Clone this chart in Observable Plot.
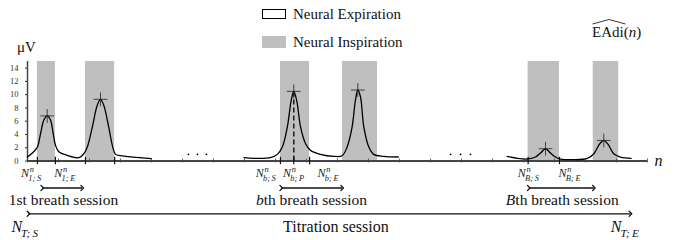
<!DOCTYPE html>
<html><head><meta charset="utf-8">
<script src="https://cdn.jsdelivr.net/npm/d3@7"></script>
<script src="https://cdn.jsdelivr.net/npm/@observablehq/plot@0.6"></script>
<style>
html body, html body *, html body svg text, html body svg tspan{font-family:'Liberation Serif',serif !important;}
body{margin:0;background:#fff;color:#111;}
#wrap{position:relative;width:681px;height:240px;overflow:hidden;}
#head{position:relative;width:681px;height:55px;}
.lg{position:absolute;left:262px;width:24px;box-sizing:border-box;}
.lt{position:absolute;left:293px;font-size:15px;line-height:15px;white-space:nowrap;}
#chart svg{display:block;overflow:visible;}
</style></head><body>
<div id="wrap">
 <div id="head">
  <div class="lg" style="top:9px;height:10px;border:1.5px solid #000"></div>
  <div class="lt" style="top:6.5px">Neural Expiration</div>
  <div class="lg" style="top:36px;height:12px;background:#bfbfbf"></div>
  <div class="lt" style="top:34.5px">Neural Inspiration</div>
  <div style="position:absolute;left:17px;top:39.5px;font-size:15px;line-height:15px">μV</div>
  <div style="position:absolute;left:592px;top:24.5px;font-size:15px;line-height:15px;white-space:nowrap">EAdi(<i>n</i>)</div>
  <svg style="position:absolute;left:592px;top:18px" width="34" height="7"><path d="M0.5,6 L17,1.5 L33.5,6" fill="none" stroke="#000" stroke-width="0.8"/></svg>
 </div>
 <div id="chart"></div>
</div>
<script>
// Neural inspiration intervals (sample index units)
const inspStart = [0.32, 1.87, 8.16, 10.16, 16.15, 18.25];
const inspEnd   = [0.90, 2.81, 9.10, 11.29, 17.16, 19.07];
// Peaks
const peakN = [0.635, 2.355, 8.59, 10.655, 16.71, 18.59];
const peakV = [6.8, 9.3, 10.5, 10.7, 1.85, 3.1];
// EAdi curve segments
const seg1N = [0, 0.2, 0.32, 0.42, 0.53, 0.635, 0.74, 0.83, 0.9, 1.01, 1.28, 1.66, 1.82, 1.93, 2.09, 2.25, 2.355, 2.46, 2.62, 2.75, 2.84, 3.0, 3.99];
const seg1V = [0.6, 1.4, 2.1, 4.1, 6.2, 6.8, 6.2, 4.1, 2.4, 1.4, 0.86, 0.5, 1.1, 2.1, 5.1, 8.4, 9.3, 8.4, 5.1, 2.1, 1.0, 0.8, 0.35];
const seg2N = [6.98, 7.3, 7.84, 8.06, 8.22, 8.38, 8.51, 8.59, 8.68, 8.81, 8.97, 9.13, 9.45, 9.88, 10.15, 10.31, 10.47, 10.58, 10.655, 10.74, 10.85, 11.01, 11.17, 11.49, 11.96];
const seg2V = [0.5, 0.4, 0.5, 1.0, 2.1, 5.1, 9.2, 10.5, 9.2, 5.1, 2.6, 1.6, 1.0, 0.7, 0.8, 2.1, 5.1, 9.2, 10.7, 9.7, 5.1, 2.1, 1.0, 0.7, 0.6];
const seg3N = [15.47, 15.8, 16.12, 16.39, 16.55, 16.71, 16.87, 17.03, 17.19, 17.62, 18.06, 18.27, 18.46, 18.59, 18.73, 18.91, 19.13, 19.47];
const seg3V = [0.7, 0.4, 0.3, 0.6, 1.2, 1.85, 1.2, 0.6, 0.3, 0.2, 0.4, 1.1, 2.6, 3.1, 2.5, 1.1, 0.6, 0.4];
// ellipsis dots
const dotsN = [5.19, 5.48, 5.77, 13.65, 13.97, 14.29];
const dotsV = [1.0, 1.0, 1.0, 1.0, 1.0, 1.0];
// ticks
const yTicks = [0, 2, 4, 6, 8, 10, 12, 14];
const minorTicks = [0,1,2,3,4,5,6,7,8,9,10,11,12,13,14,15,16,17,18,19,20];
const eventTicks = [0.32, 0.90, 1.87, 2.81, 8.16, 8.59, 9.10, 16.15, 17.16];
// event labels (base|sup|sub)
const labelN = [0.113, 1.2, 7.684, 8.58, 9.694, 16.155, 17.484];
const labelT = ["N|n|1;\u2009S", "N|n|1;\u2009E", "N|n|b;\u2009S", "N|n|b;\u2009P", "N|n|b;\u2009E", "N|n|B;\u2009S", "N|n|B;\u2009E"];
// breath-session arrows and names
const sessFrom = [0.474, 8.184, 16.17];
const sessTo   = [1.764, 10.15, 18.27];
const sessN    = [1.16, 9.16, 17.25];
const sessT    = ["1st breath session", "*b*th breath session", "*B*th breath session"];
// titration session
const titFrom = 0.03, titTo = 19.45;
const titLabelN = [-0.087, 9.95, 19.268];
const titLabelT = ["N||T;\u2009S", "Titration session", "N||T;\u2009E"];

const curve = [
  ...seg1N.map((n, i) => ({n, v: seg1V[i], s: 1})),
  ...seg2N.map((n, i) => ({n, v: seg2V[i], s: 2})),
  ...seg3N.map((n, i) => ({n, v: seg3V[i], s: 3}))
];
const bars = inspStart.map((a, i) => ({a, b: inspEnd[i]}));
const peaks = peakN.map((n, i) => ({n, v: peakV[i]}));
const dots = dotsN.map((n, i) => ({n, v: dotsV[i]}));
const labels = labelN.map((n, i) => ({n, t: labelT[i]}));
const sess = sessN.map((n, i) => ({n, t: sessT[i], a: sessFrom[i], b: sessTo[i]}));
const tit = titLabelN.map((n, i) => ({n, t: titLabelT[i]}));

const plot = Plot.plot({
  width: 681, height: 185,
  marginLeft: 27, marginRight: 34, marginTop: 6, marginBottom: 79.5,
  x: {domain: [0, 20], axis: null},
  y: {domain: [0, 15], ticks: yTicks, tickSize: 2, tickPadding: 7, label: null},
  style: {fontFamily: "'Liberation Serif', serif", fontSize: "8.5px", color: "#333", background: "transparent", overflow: "visible"},
  marks: [
    Plot.rect(bars, {x1: "a", x2: "b", y1: 0, y2: 15, fill: "#bfbfbf"}),
    Plot.ruleY([0], {x1: 0, x2: 20, stroke: "#444", strokeWidth: 2}),
    Plot.ruleX([0], {y1: 0, y2: 15, stroke: "#444", strokeWidth: 1.5}),
    Plot.ruleX(minorTicks, {y1: -0.3, y2: 0.3, stroke: "#444", strokeWidth: 0.8}),
    Plot.ruleX(eventTicks, {y1: -0.55, y2: 0.55, stroke: "#111", strokeWidth: 1.2}),
    Plot.ruleX([peaks[2]], {x: "n", y1: 0, y2: "v", stroke: "#111", strokeWidth: 1.4, strokeDasharray: "5,3"}),
    Plot.line(curve, {x: "n", y: "v", z: "s", curve: "catmull-rom", stroke: "#000", strokeWidth: 1.3}),
    Plot.dot(peaks, {x: "n", y: "v", symbol: "plus", r: 4.5, stroke: "#222", strokeWidth: 0.8}),
    Plot.dot(dots, {x: "n", y: "v", r: 0.9, fill: "#000", stroke: null}),
    Plot.text(["n"], {x: 20, y: 0, dx: 11, text: d => d, fontSize: 16, fontStyle: "italic", fill: "#111"}),
    Plot.text(labels, {x: "n", y: -1.81, text: "t", fontSize: 12, fill: "#222"}),
    Plot.link(sess, {x1: "a", x2: "b", y1: -4.07, y2: -4.07, stroke: "#111", strokeWidth: 1.3, markerStart: "arrow", markerEnd: "arrow"}),
    Plot.text(sess, {x: "n", y: -5.88, text: "t", fontSize: 15.5, fill: "#111"}),
    Plot.link([{a: titFrom, b: titTo}], {x1: "a", x2: "b", y1: -7.96, y2: -7.96, stroke: "#111", strokeWidth: 1.3, markerStart: "arrow", markerEnd: "arrow"}),
    Plot.text(tit, {x: "n", y: -10.0, text: "t", fontSize: 16, fill: "#111"})
  ]
});
document.getElementById("chart").appendChild(plot);

// rich text: N|sup|sub and *italic*
const NS = "http://www.w3.org/2000/svg";
function ts(p, txt, at) {
  const t = document.createElementNS(NS, "tspan");
  t.textContent = txt;
  for (const k in at) t.setAttribute(k, at[k]);
  p.appendChild(t);
  return t;
}
plot.querySelectorAll("text").forEach(el => {
  el.style.setProperty("font-family", "'Liberation Serif', serif", "important");
  const s = el.textContent;
  const fs = parseFloat(getComputedStyle(el).fontSize);
  if (s.includes("|")) {
    const [b, sup, sub] = s.split("|");
    el.textContent = "";
    ts(el, b, {"font-style": "italic"});
    let w = 0;
    const ss = fs * 0.7;
    if (sup) {
      const t = ts(el, sup, {"font-style": "italic", "font-size": ss, dx: 0.8, dy: -fs * 0.4});
      w = t.getComputedTextLength();
      ts(el, sub, {"font-style": "italic", "font-size": ss, dx: -w - 1.5, dy: fs * 0.72});
    } else {
      ts(el, sub, {"font-style": "italic", "font-size": ss, dx: -1, dy: fs * 0.3});
    }
  } else if (s.includes("*")) {
    const parts = s.split("*");
    el.textContent = "";
    parts.forEach((p, i) => { if (p) ts(el, p, i % 2 ? {"font-style": "italic"} : {}); });
  }
});
</script>
</body></html>
